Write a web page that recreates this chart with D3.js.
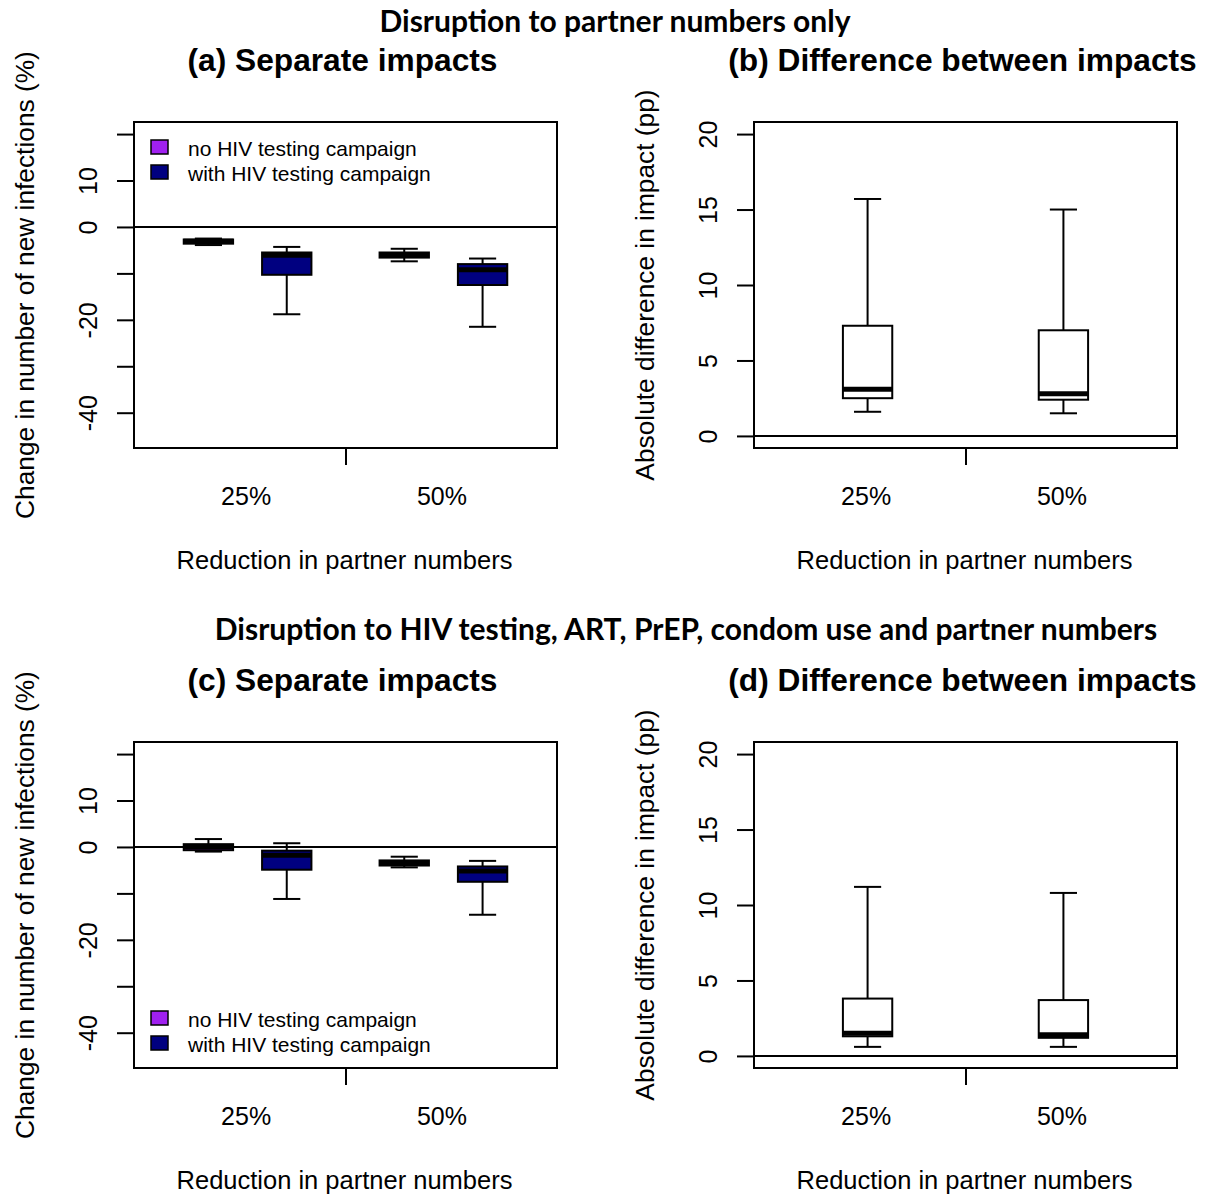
<!DOCTYPE html>
<html>
<head>
<meta charset="utf-8">
<script src="https://cdn.jsdelivr.net/npm/d3@7"></script>
<style>
  body { margin: 0; background: #fff; }
  svg { display: block; }
</style>
</head>
<body>
<script>
const width = 1208, height = 1196;
const panelWidth = 423, panelHeight = 326;

const groups = ["25%", "50%"];
const campaigns = ["no HIV testing campaign", "with HIV testing campaign"];
const campaignColors = ["#a020f0", "#000080"];

// each row: [lower whisker, Q1, median, Q3, upper whisker], one row per group
const partnerOnlyNoCampaign = [[-3.9, -3.6, -3.1, -2.7, -2.5], [-7.4, -6.6, -6.0, -5.5, -4.7]];
const partnerOnlyWithCampaign = [[-18.8, -10.3, -6.1, -5.5, -4.3], [-21.5, -12.5, -9.2, -8.0, -6.8]];
const partnerOnlyDifference = [[1.6, 2.5, 3.1, 7.3, 15.7], [1.5, 2.4, 2.8, 7.0, 15.0]];
const allDisruptionNoCampaign = [[-1.0, -0.7, 0.0, 0.6, 1.7], [-4.4, -4.0, -3.4, -2.9, -2.1]];
const allDisruptionWithCampaign = [[-11.2, -4.9, -1.8, -0.8, 0.8], [-14.6, -7.5, -5.2, -4.2, -3.0]];
const allDisruptionDifference = [[0.6, 1.3, 1.5, 3.8, 11.2], [0.6, 1.2, 1.4, 3.7, 10.8]];

const separateTicks = [20, 10, 0, -10, -20, -30, -40];
const separateTickLabels = ["", "10", "0", "", "-20", "", "-40"];
const differenceTicks = [0, 5, 10, 15, 20];
const differenceTickLabels = ["0", "5", "10", "15", "20"];
const separateLimits = [-45, 20];
const differenceLimits = [0, 20];
const xLimits = [0.25, 5.25];

const rFont = "'Liberation Sans', Arial, sans-serif";
const headFont = "Lato, 'Open Sans', sans-serif";
const boxWidth = 0.63; // in x units
const capRatio = 0.55;

// R pads each axis range by 4% on both sides
function pad([lo, hi]) {
  const r = hi - lo;
  return [lo - 0.04 * r, hi + 0.04 * r];
}

const svg = d3
  .select("body")
  .append("svg")
  .attr("width", width)
  .attr("height", height)
  .attr("viewBox", [0, 0, width, height]);

svg.append("rect").attr("width", width).attr("height", height).attr("fill", "#fff");

function drawPanel({ left, top, title, yLabel, limits, ticks, tickLabels, boxes, legendTop }) {
  const g = svg.append("g").attr("transform", `translate(${left},${top})`);
  const x = d3.scaleLinear(pad(xLimits), [0, panelWidth]);
  const y = d3.scaleLinear(pad(limits), [panelHeight, 0]);
  const bw = x(boxWidth) - x(0);

  // boxes
  const box = g
    .selectAll("g.box")
    .data(boxes)
    .join("g")
    .attr("class", "box")
    .attr("stroke", "#000")
    .attr("stroke-width", 2);

  // whiskers
  box
    .append("line")
    .attr("x1", (d) => x(d.pos))
    .attr("x2", (d) => x(d.pos))
    .attr("y1", (d) => y(d.stats[4]))
    .attr("y2", (d) => y(d.stats[0]));
  box
    .selectAll("line.cap")
    .data((d) => [
      [d.pos, d.stats[0]],
      [d.pos, d.stats[4]],
    ])
    .join("line")
    .attr("class", "cap")
    .attr("x1", (d) => x(d[0]) - (bw * capRatio) / 2)
    .attr("x2", (d) => x(d[0]) + (bw * capRatio) / 2)
    .attr("y1", (d) => y(d[1]))
    .attr("y2", (d) => y(d[1]));

  box
    .append("rect")
    .attr("x", (d) => x(d.pos) - bw / 2)
    .attr("width", bw)
    .attr("y", (d) => y(d.stats[3]))
    .attr("height", (d) => y(d.stats[1]) - y(d.stats[3]))
    .attr("fill", (d) => d.fill);

  box
    .append("line")
    .attr("stroke-width", 5)
    .attr("x1", (d) => x(d.pos) - bw / 2)
    .attr("x2", (d) => x(d.pos) + bw / 2)
    .attr("y1", (d) => y(d.stats[2]))
    .attr("y2", (d) => y(d.stats[2]));

  // reference line at zero
  g.append("line")
    .attr("x1", 0)
    .attr("x2", panelWidth)
    .attr("y1", y(0))
    .attr("y2", y(0))
    .attr("stroke", "#000")
    .attr("stroke-width", 2);

  // frame
  g.append("rect")
    .attr("width", panelWidth)
    .attr("height", panelHeight)
    .attr("fill", "none")
    .attr("stroke", "#000")
    .attr("stroke-width", 2);

  // y axis with rotated labels
  g.append("g")
    .call(
      d3
        .axisLeft(y)
        .tickValues(ticks)
        .tickSize(17)
        .tickFormat((d, i) => tickLabels[i])
    )
    .call((a) => a.select(".domain").remove())
    .call((a) => a.selectAll(".tick line").attr("stroke", "#000").attr("stroke-width", 2))
    .call((a) =>
      a
        .selectAll(".tick text")
        .attr("x", null)
        .attr("dy", null)
        .attr("transform", "translate(-37,0) rotate(-90)")
        .attr("text-anchor", "middle")
        .attr("fill", "#000")
        .attr("font-family", rFont)
        .attr("font-size", 25)
    );

  // x axis: single centre tick, group names underneath
  g.append("g")
    .attr("transform", `translate(0,${panelHeight})`)
    .call(d3.axisBottom(x).tickValues([d3.mean(xLimits)]).tickSize(17).tickFormat(""))
    .call((a) => a.select(".domain").remove())
    .call((a) => a.selectAll(".tick line").attr("stroke", "#000").attr("stroke-width", 2));

  g.append("g")
    .attr("transform", `translate(0,${panelHeight})`)
    .call(
      d3
        .axisBottom(x)
        .tickValues(groups.map((_, i) => 1.5 + 2.5 * i))
        .tickSize(0)
        .tickFormat((d, i) => groups[i])
    )
    .call((a) => a.select(".domain").remove())
    .call((a) =>
      a
        .selectAll(".tick text")
        .attr("x", -2)
        .attr("y", 57)
        .attr("dy", null)
        .attr("fill", "#000")
        .attr("font-family", rFont)
        .attr("font-size", 25)
    );

  g.append("text")
    .attr("x", panelWidth / 2 - 1)
    .attr("y", panelHeight + 121)
    .attr("text-anchor", "middle")
    .attr("font-family", rFont)
    .attr("font-size", 25.5)
    .text("Reduction in partner numbers");

  g.append("text")
    .attr("transform", `translate(-100,${panelHeight / 2}) rotate(-90)`)
    .attr("text-anchor", "middle")
    .attr("font-family", rFont)
    .attr("font-size", 26.3)
    .text(yLabel);

  g.append("text")
    .attr("x", panelWidth / 2 - 3)
    .attr("y", -51)
    .attr("text-anchor", "middle")
    .attr("font-family", rFont)
    .attr("font-weight", "bold")
    .attr("font-size", 31.7)
    .text(title);

  if (legendTop !== undefined) {
    const lg = g
      .append("g")
      .attr("font-family", rFont)
      .attr("font-size", 21)
      .selectAll("g")
      .data(campaigns)
      .join("g")
      .attr("transform", (d, i) => `translate(17,${legendTop + i * 25})`);
    lg.append("rect")
      .attr("width", 17)
      .attr("height", 14)
      .attr("y", -7)
      .attr("fill", (d, i) => campaignColors[i])
      .attr("stroke", "#000")
      .attr("stroke-width", 1.5);
    lg.append("text").attr("x", 37).attr("y", 9).text((d) => d);
  }
}

function separateBoxes(noCampaign, withCampaign) {
  const out = [];
  groups.forEach((_, i) => {
    [noCampaign, withCampaign].forEach((series, j) => {
      out.push({ pos: 1 + j + 2.5 * i, stats: series[i], fill: campaignColors[j] });
    });
  });
  return out;
}

function differenceBoxes(diff) {
  return groups.map((_, i) => ({ pos: 1.5 + 2.5 * i, stats: diff[i], fill: "#fff" }));
}

// row headings
svg
  .append("text")
  .attr("x", 615)
  .attr("y", 32)
  .attr("text-anchor", "middle")
  .attr("font-family", headFont)
  .attr("font-weight", "bold")
  .attr("font-size", 30)
  .text("Disruption to partner numbers only");

svg
  .append("text")
  .attr("x", 686)
  .attr("y", 640)
  .attr("text-anchor", "middle")
  .attr("font-family", headFont)
  .attr("font-weight", "bold")
  .attr("font-size", 30)
  .text("Disruption to HIV testing, ART, PrEP, condom use and partner numbers");

drawPanel({
  left: 134,
  top: 122,
  title: "(a) Separate impacts",
  yLabel: "Change in number of new infections (%)",
  limits: separateLimits,
  ticks: separateTicks,
  tickLabels: separateTickLabels,
  boxes: separateBoxes(partnerOnlyNoCampaign, partnerOnlyWithCampaign),
  legendTop: 25,
});

drawPanel({
  left: 754,
  top: 122,
  title: "(b) Difference between impacts",
  yLabel: "Absolute difference in impact (pp)",
  limits: differenceLimits,
  ticks: differenceTicks,
  tickLabels: differenceTickLabels,
  boxes: differenceBoxes(partnerOnlyDifference),
});

drawPanel({
  left: 134,
  top: 742,
  title: "(c) Separate impacts",
  yLabel: "Change in number of new infections (%)",
  limits: separateLimits,
  ticks: separateTicks,
  tickLabels: separateTickLabels,
  boxes: separateBoxes(allDisruptionNoCampaign, allDisruptionWithCampaign),
  legendTop: 276,
});

drawPanel({
  left: 754,
  top: 742,
  title: "(d) Difference between impacts",
  yLabel: "Absolute difference in impact (pp)",
  limits: differenceLimits,
  ticks: differenceTicks,
  tickLabels: differenceTickLabels,
  boxes: differenceBoxes(allDisruptionDifference),
});
</script>
</body>
</html>
